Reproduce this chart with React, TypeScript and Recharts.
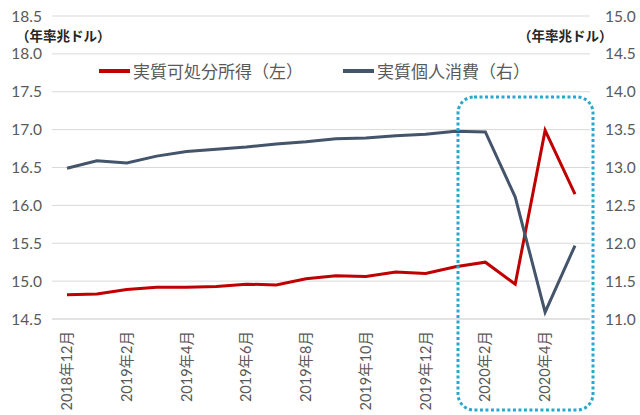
import React from "react";
import { LineChart, Line, XAxis, YAxis, CartesianGrid } from "recharts";

const months = [
  "2018年12月", "2019年1月", "2019年2月", "2019年3月", "2019年4月", "2019年5月",
  "2019年6月", "2019年7月", "2019年8月", "2019年9月", "2019年10月", "2019年11月",
  "2019年12月", "2020年1月", "2020年2月", "2020年3月", "2020年4月", "2020年5月",
];

// 実質可処分所得（左軸）
const income = [
  14.82, 14.83, 14.89, 14.92, 14.92, 14.93, 14.96, 14.95, 15.03,
  15.07, 15.06, 15.12, 15.1, 15.19, 15.25, 14.96, 16.99, 16.15,
];

// 実質個人消費（右軸）
const consumption = [
  12.99, 13.09, 13.06, 13.15, 13.21, 13.24, 13.27, 13.31, 13.34,
  13.38, 13.39, 13.42, 13.44, 13.48, 13.47, 12.61, 11.09, 11.97,
];

const leftTicks = [14.5, 15.0, 15.5, 16.0, 16.5, 17.0, 17.5, 18.0, 18.5];
const rightTicks = [11.0, 11.5, 12.0, 12.5, 13.0, 13.5, 14.0, 14.5, 15.0];

const seriesNames = ["実質可処分所得（左）", "実質個人消費（右）"];
const unitLabel = "（年率兆ドル）";

const RED = "#C00000";
const GRAY = "#44546A";
const TEXT = "#595959";
const FONT = "'Noto Sans CJK JP', 'Noto Sans', sans-serif";
const NUM_FONT = "Lato, 'Noto Sans CJK JP', sans-serif";

const data = months.map((m, i) => ({
  month: m,
  income: income[i],
  consumption: consumption[i],
}));

function XTick({ x, y, payload }: any) {
  return (
    <g transform={`translate(${x},${y})`}>
      <text
        transform="rotate(-90)"
        x={0}
        y={0}
        dy="0.35em"
        textAnchor="end"
        fill={TEXT}
        fontSize={14.5}
        fontFamily={NUM_FONT}
      >
        {payload.value}
      </text>
    </g>
  );
}

function ChartLegend() {
  const colors = [RED, GRAY];
  return (
    <div
      style={{
        position: "absolute",
        left: 99,
        top: 60,
        display: "flex",
        gap: 40,
        fontFamily: FONT,
      }}
    >
      {seriesNames.map((name, i) => (
        <div key={name} style={{ display: "flex", alignItems: "center" }}>
          <span
            style={{
              display: "inline-block",
              width: 31,
              height: 4,
              background: colors[i],
              marginRight: 3,
            }}
          />
          <span style={{ fontSize: 17, color: TEXT, lineHeight: "22px" }}>{name}</span>
        </div>
      ))}
    </div>
  );
}

const unitStyle: React.CSSProperties = {
  position: "absolute",
  top: 28,
  fontSize: 13.5,
  lineHeight: "14px",
  fontWeight: 700,
  color: "#262626",
};

export default function App() {
  return (
    <div
      style={{
        position: "absolute",
        left: 0,
        top: 0,
        width: 640,
        height: 415,
        background: "#fff",
        fontFamily: FONT,
      }}
    >
      <LineChart
        width={640}
        height={415}
        data={data}
        margin={{ top: 16, right: 0, bottom: 0, left: 0 }}
      >
        <CartesianGrid vertical={false} stroke="#d9d9d9" strokeWidth={1} yAxisId="left" />
        <XAxis
          dataKey="month"
          interval={1}
          height={96}
          padding={{ left: 15, right: 15 }}
          tickLine={false}
          axisLine={{ stroke: "#d9d9d9" }}
          tickMargin={6}
          tick={<XTick />}
        />
        <YAxis
          yAxisId="left"
          width={52}
          domain={[14.5, 18.5]}
          ticks={leftTicks}
          tickFormatter={(v: number) => v.toFixed(1)}
          axisLine={false}
          tickLine={false}
          tickMargin={4}
          tick={{ fill: TEXT, fontSize: 15.5, fontFamily: NUM_FONT }}
        />
        <YAxis
          yAxisId="right"
          orientation="right"
          width={50}
          domain={[11, 15]}
          ticks={rightTicks}
          tickFormatter={(v: number) => v.toFixed(1)}
          axisLine={false}
          tickLine={false}
          tickMargin={9}
          tick={{ fill: TEXT, fontSize: 15.5, fontFamily: NUM_FONT, textAnchor: "start" }}
        />
        <Line
          yAxisId="left"
          dataKey="income"
          name={seriesNames[0]}
          stroke={RED}
          strokeWidth={3}
          dot={false}
          isAnimationActive={false}
        />
        <Line
          yAxisId="right"
          dataKey="consumption"
          name={seriesNames[1]}
          stroke={GRAY}
          strokeWidth={3}
          dot={false}
          isAnimationActive={false}
        />
      </LineChart>

      <ChartLegend />

      <div style={{ ...unitStyle, left: 16 }}>{unitLabel}</div>
      <div style={{ ...unitStyle, left: 518 }}>{unitLabel}</div>

      <svg
        width={640}
        height={415}
        style={{ position: "absolute", left: 0, top: 0, pointerEvents: "none" }}
      >
        <rect
          x={458}
          y={97}
          width={135}
          height={313}
          rx={16}
          fill="none"
          stroke="#29A8CC"
          strokeWidth={3}
          strokeDasharray="3 2.5"
        />
      </svg>
    </div>
  );
}
